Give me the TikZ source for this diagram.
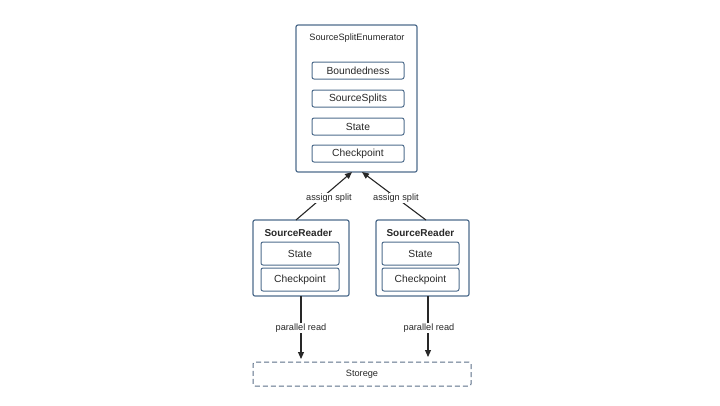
\documentclass[tikz,border=0pt]{standalone}
\usepackage{fontspec}
\setmainfont{Liberation Sans}
\usetikzlibrary{arrows.meta}
\definecolor{bord}{RGB}{78,108,140}
\definecolor{ink}{RGB}{40,40,40}
\definecolor{dash}{RGB}{90,110,135}
\begin{document}
\begin{tikzpicture}[x=1pt,y=-1pt,
  outer/.style={draw=bord,line width=1.2pt,rounded corners=2pt,fill=white},
  inner/.style={draw=bord,line width=1pt,rounded corners=2pt,fill=white,font=\fontsize{10.3}{12}\selectfont,text=ink},
  lbl/.style={font=\fontsize{9.2}{11}\selectfont,text=ink,fill=white,inner sep=1pt},
  conn/.style={draw=ink,line width=1.1pt,-{Triangle[length=7pt,width=6pt]}}]
\useasboundingbox (0,0) rectangle (720,405);
% enumerator
\draw[outer] (296,25) rectangle (417,172);
\node[font=\fontsize{9.2}{11}\selectfont,text=ink] (enumt) at (357,38) {SourceSplitEnumerator};
\node (enum) at (356.5,98.5) [minimum width=121pt,minimum height=147pt,inner sep=0] {};
\draw[inner] (312,62) rectangle (404,79) node[midway] (bnd) {Boundedness};
\draw[inner] (312,90) rectangle (404,107) node[midway] (ss) {SourceSplits};
\draw[inner] (312,118) rectangle (404,135) node[midway] (st) {State};
\draw[inner] (312,145) rectangle (404,162) node[midway] (cp) {Checkpoint};
% left reader
\node (rl) at (301,258) [minimum width=96pt,minimum height=76pt,inner sep=0] {};
\draw[outer] (253,220) rectangle (349,296);
\node[font=\bfseries\fontsize{10}{12}\selectfont,text=ink,anchor=west] (rlt) at (261,233) {SourceReader};
\draw[inner] (261,242) rectangle (339,265) node[midway] (rls) {State};
\draw[inner] (261,268) rectangle (339,291) node[midway] (rlc) {Checkpoint};
% right reader
\node (rr) at (422.5,258) [minimum width=93pt,minimum height=76pt,inner sep=0] {};
\draw[outer] (376,220) rectangle (469,296);
\node[font=\bfseries\fontsize{10}{12}\selectfont,text=ink,anchor=west] (rrt) at (383,233) {SourceReader};
\draw[inner] (382,242) rectangle (459,265) node[midway] (rrs) {State};
\draw[inner] (382,268) rectangle (459,291) node[midway] (rrc) {Checkpoint};
% storage
\node (sto) at (362,374) [draw=dash,dashed,dash pattern=on 5pt off 3pt,line width=1pt,rounded corners=2pt,minimum width=218pt,minimum height=24pt,font=\fontsize{9.2}{11}\selectfont,text=ink] {Storege};
% connectors
\coordinate (la) at (296,220);
\coordinate (lb) at (352,172);
\coordinate (ra) at (426,220);
\coordinate (rb) at (362,172);
\draw[conn] (la) -- (lb);
\draw[conn] (ra) -- (rb);
\node[lbl] at (329,198) {assign split};
\node[lbl] at (396,198) {assign split};
\coordinate (lp) at (301,296);
\coordinate (lq) at (301,359);
\coordinate (rp) at (428,296);
\coordinate (rq) at (428,357);
\draw[conn] (lp) -- (lq);
\draw[conn] (rp) -- (rq);
\node[lbl] at (301,328) {parallel read};
\node[lbl] at (429,328) {parallel read};
\end{tikzpicture}
\end{document}
